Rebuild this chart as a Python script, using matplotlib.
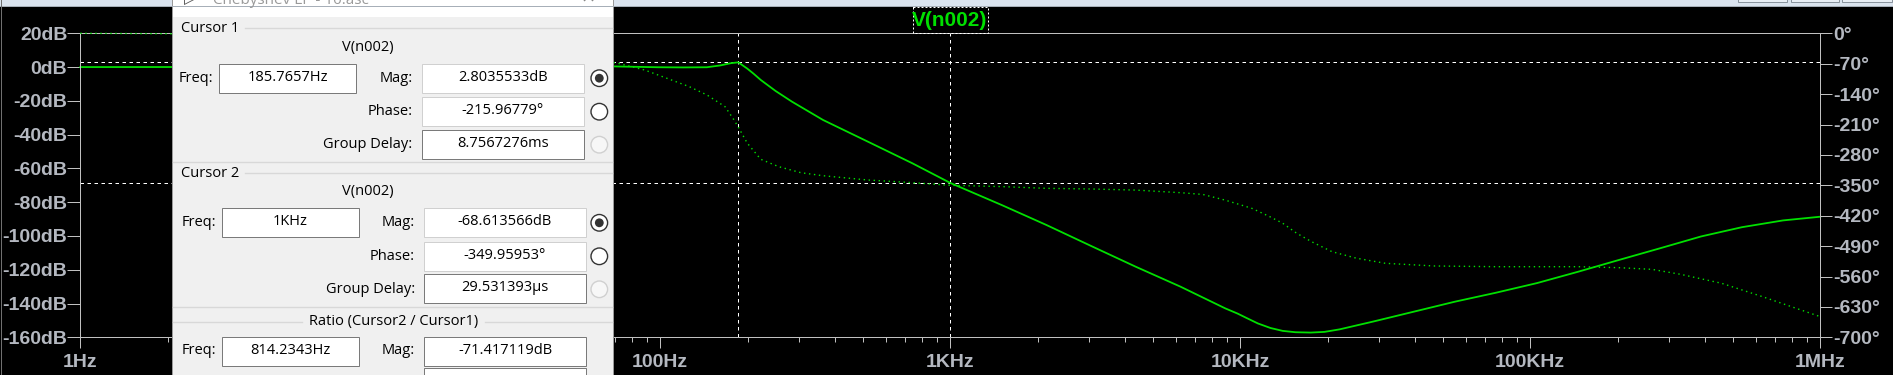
import matplotlib
matplotlib.use("Agg")
import matplotlib.pyplot as plt
import matplotlib.patches as mpatches
from matplotlib.ticker import FixedLocator, LogLocator, NullFormatter

# V(n002) magnitude (dB) vs frequency (Hz)
freq_mag = [1, 10, 30, 50, 68.7, 98.2, 120, 144.8, 161.3, 175, 185.77,
            199.5, 210, 221.9, 250, 284.6, 363.9, 520.3, 740.7, 1000,
            1505, 2145, 3057, 4358, 6216, 8856, 9800,
            10520, 11500, 12713, 14000, 15500, 17500, 19500, 22000, 28685, 39720, 55000, 76150,
            105460, 146030, 202230, 280050, 387770, 537030, 743500, 1000000]
mag_db = [0, 0.1, 0.6, 0.8, 0.4, -0.1, -0.2, -0.1, 1.0, 2.3, 2.8,
          -0.9, -4.0, -7.6, -14.2, -20.5, -31.3, -44.2, -57, -68.6,
          -81.7, -93.5, -105.9, -118.2, -130, -142.8, -146.0,
          -148.6, -151.8, -154.5, -156.2, -157.0, -157.2, -156.8, -155.3, -150.7, -144.8, -138.9, -133.6,
          -127.9, -121.2, -114.2, -107.3, -100.3, -94.8, -90.8, -88.6]

# V(n002) phase (deg) vs frequency (Hz)
freq_phase = [1, 2, 5, 10, 20, 40, 71.4, 88.3, 105.5, 125.9, 144.9, 167.2, 179.6, 185.77,
              199.5, 221.9, 255.8, 305.3, 364.5, 519.9, 740.7, 1000,
              1505, 2145, 3057, 4358, 6216, 7420, 8856,
              10957, 12618, 14015, 15613, 17600, 20720, 25180, 31620, 46740,
              76150, 146030, 202230, 262650, 329900, 456700, 632300, 1000000]
phase_deg = [0, -1, -4, -9, -18, -38, -69, -84.5, -103.7, -122.9, -142, -169, -199.6, -216,
             -253, -290, -307, -321, -328, -337.8, -344, -350,
             -353, -357, -358.5, -361, -367, -371, -384,
             -403, -422, -437.5, -460, -479.8, -502.9, -518, -529.6, -535.8,
             -537.4, -537.4, -539.7, -543.5, -555, -575.6, -606.5, -652.5]

# axis ticks
x_ticks = [1, 10, 100, 1e3, 1e4, 1e5, 1e6]
x_labels = ["1Hz", "10Hz", "100Hz", "1KHz", "10KHz", "100KHz", "1MHz"]
db_ticks = list(range(20, -161, -20))
db_labels = [f"{v}dB" for v in db_ticks]
ph_ticks = list(range(0, -701, -70))
ph_labels = [f"{v}\u00b0" for v in ph_ticks]

# cursor readouts
cursor_freq = [185.7657, 1000.0]
cursor_mag = [2.8035533, -68.613566]
c1_text = ["185.7657Hz", "2.8035533dB", "-215.96779\u00b0", "8.7567276ms"]
c2_text = ["1KHz", "-68.613566dB", "-349.95953\u00b0", "29.531393\u00b5s"]
ratio_text = ["814.2343Hz", "-71.417119dB"]

green = "#00e000"
frame = "#c0c0c0"
labcol = "#b4b8c0"
px = 0.72  # one pixel in points at dpi 100

fig = plt.figure(figsize=(18.93, 3.75), dpi=100, facecolor="black")
ax = fig.add_axes([80.3 / 1893, 1 - 337.3 / 375, 1740 / 1893, 304 / 375])
ax.set_facecolor("black")
ax.set_xscale("log")
ax.set_xlim(1, 1e6)
ax.set_ylim(-160, 20)

ax.plot(freq_mag, mag_db, color=green, lw=1.3, clip_on=False, zorder=3)

for f in cursor_freq:
    ax.axvline(f, color="white", lw=px, dashes=(3.5, 3.5), zorder=2)
for m in cursor_mag:
    ax.axhline(m, color="white", lw=px, dashes=(3.5, 3.5), zorder=2)

ax2 = ax.twinx()
ax2.set_ylim(-700, 0)
ax2.plot(freq_phase, phase_deg, color=green, lw=1.0, linestyle=(0, (1, 2.6)),
         clip_on=False, zorder=3)

tick_font = dict(family="Liberation Sans", weight="bold", size=14)
ax.xaxis.set_major_locator(FixedLocator(x_ticks))
ax.set_xticklabels(x_labels, color=labcol, **tick_font)
ax.xaxis.set_minor_locator(LogLocator(base=10, subs=range(2, 10), numticks=20))
ax.xaxis.set_minor_formatter(NullFormatter())
ax.tick_params(axis="x", which="major", length=11 * px, width=px, color=frame, pad=4)
ax.tick_params(axis="x", which="minor", length=5 * px, width=px, color=frame)

ax.set_yticks(db_ticks)
ax.set_yticklabels(db_labels, color=labcol, **tick_font)
ax.tick_params(axis="y", length=13 * px, width=px, color=frame, pad=0)

ax2.set_yticks(ph_ticks)
ax2.set_yticklabels(ph_labels, color=labcol, **tick_font)
ax2.tick_params(axis="y", length=12 * px, width=px, color=frame, pad=1)

for a in (ax, ax2):
    for s in a.spines.values():
        s.set_color(frame)
        s.set_linewidth(px)

# overlay in pixel coordinates: window chrome, trace title, cursor dialog
ov = fig.add_axes([0, 0, 1, 1], zorder=10)
ov.set_xlim(0, 1893)
ov.set_ylim(375, 0)
ov.axis("off")
ov.patch.set_alpha(0)

ov.add_patch(mpatches.Rectangle((0, 0), 1893, 5.5, fc="#dae3ee", ec="none"))
ov.plot([0, 1893], [5.8, 5.8], color="#a7afb8", lw=px)
ov.plot([0.5, 0.5], [0, 375], color="#707070", lw=px)
for bx0, bx1 in [(1738, 1787), (1791, 1839), (1842, 1892)]:
    ov.add_patch(mpatches.Rectangle((bx0, -6), bx1 - bx0, 7.5, fc="#e8eef5", ec="#8a949e", lw=px))

ov.text(950, 20, "V(n002)", color=green, ha="center", va="center",
        family="Liberation Sans", weight="bold", size=15)
ov.add_patch(mpatches.Rectangle((912.5, 6.7), 75, 26, fill=False, ec="white", lw=px,
                                linestyle=(0, (2, 2))))

# dialog
ui = dict(family="Open Sans", size=10.5, color="black")
ov.add_patch(mpatches.Rectangle((172, -2), 441, 380, fc="#f0f0f0", ec="#9a9a9a", lw=px))
ov.add_patch(mpatches.Rectangle((172.5, -2), 440, 19.3, fc="white", ec="none"))
# window title sits mostly above the screenshot edge, as in the capture
ov.text(213, 4, "Chebyshev LP - 10.asc", ha="left", va="baseline", family="Open Sans",
        size=11, color="#9a9a9a")
ov.text(184, 4, "\u25b7", ha="left", va="baseline", family="DejaVu Sans", size=12, color="#555555")
ov.text(588, 3, "\u00d7", ha="center", va="baseline", family="DejaVu Sans", size=13, color="#888888")


def box(x0, y0, x1, y1, text, ec="#7a7a7a"):
    ov.add_patch(mpatches.Rectangle((x0, y0), x1 - x0, y1 - y0, fc="white", ec=ec, lw=px))
    if text:
        ov.text((x0 + x1) / 2, (y0 + y1) / 2 - 1, text, ha="center", va="center", **ui)


def radio(y, state):
    if state == "off":
        ov.add_patch(mpatches.Circle((599.3, y), 8.3, fc="#f7f7f7", ec="#d0d0d0", lw=1))
        return
    ov.add_patch(mpatches.Circle((599.3, y), 8.3, fc="white", ec="#333333", lw=1))
    if state == "on":
        ov.add_patch(mpatches.Circle((599.3, y), 4.4, fc="#333333", ec="none"))


def hline(y, x0, x1):
    ov.plot([x0, x1], [y, y], color="#d8d8d8", lw=1)


def cursor_group(top, title, texts, fx0, mx0, lab_x, mag_r):
    ov.text(181, top, title, ha="left", va="center", **ui)
    hline(top - 0.5, 245, 612)
    ov.text(368, top + 18.5, "V(n002)", ha="center", va="center", **ui)
    rows = [top + 49.5, top + 83, top + 116]
    ov.text(lab_x, rows[0], "Freq:", ha="left", va="center", **ui)
    box(fx0, rows[0] - 14.5, fx0 + 136.4, rows[0] + 14.5, texts[0])
    for label, yy in zip(["Mag:", "Phase:", "Group Delay:"], rows):
        ov.text(mag_r, yy, label, ha="right", va="center", **ui)
    box(mx0, rows[0] - 14.5, mx0 + 161.4, rows[0] + 14.5, texts[1], ec="#d0d0d0")
    box(mx0, rows[1] - 14.5, mx0 + 161.4, rows[1] + 14.5, texts[2], ec="#d0d0d0")
    box(mx0, rows[2] - 15, mx0 + 161.4, rows[2] + 14, texts[3])
    radio(rows[0], "on")
    radio(rows[1], "empty")
    radio(rows[2], "off")


cursor_group(28.7, "Cursor 1", c1_text, 219.3, 422.3, 179, 412.7)
hline(161.7, 173, 612)
cursor_group(173.3, "Cursor 2", c2_text, 222.3, 424.3, 181.7, 415)
hline(306.7, 173, 612)

ov.text(393.3, 321.7, "Ratio (Cursor2 / Cursor1)", ha="center", va="center", **ui)
hline(321.7, 173, 302)
hline(321.7, 485, 612)
ov.text(181.7, 350, "Freq:", ha="left", va="center", **ui)
box(222.3, 336.7, 358.7, 365.7, ratio_text[0])
ov.text(415, 350, "Mag:", ha="right", va="center", **ui)
box(424.3, 336.7, 585.7, 365.7, ratio_text[1])
box(424.3, 368.3, 585.7, 385, "")

fig.savefig("out.png", dpi=100, facecolor="black")
